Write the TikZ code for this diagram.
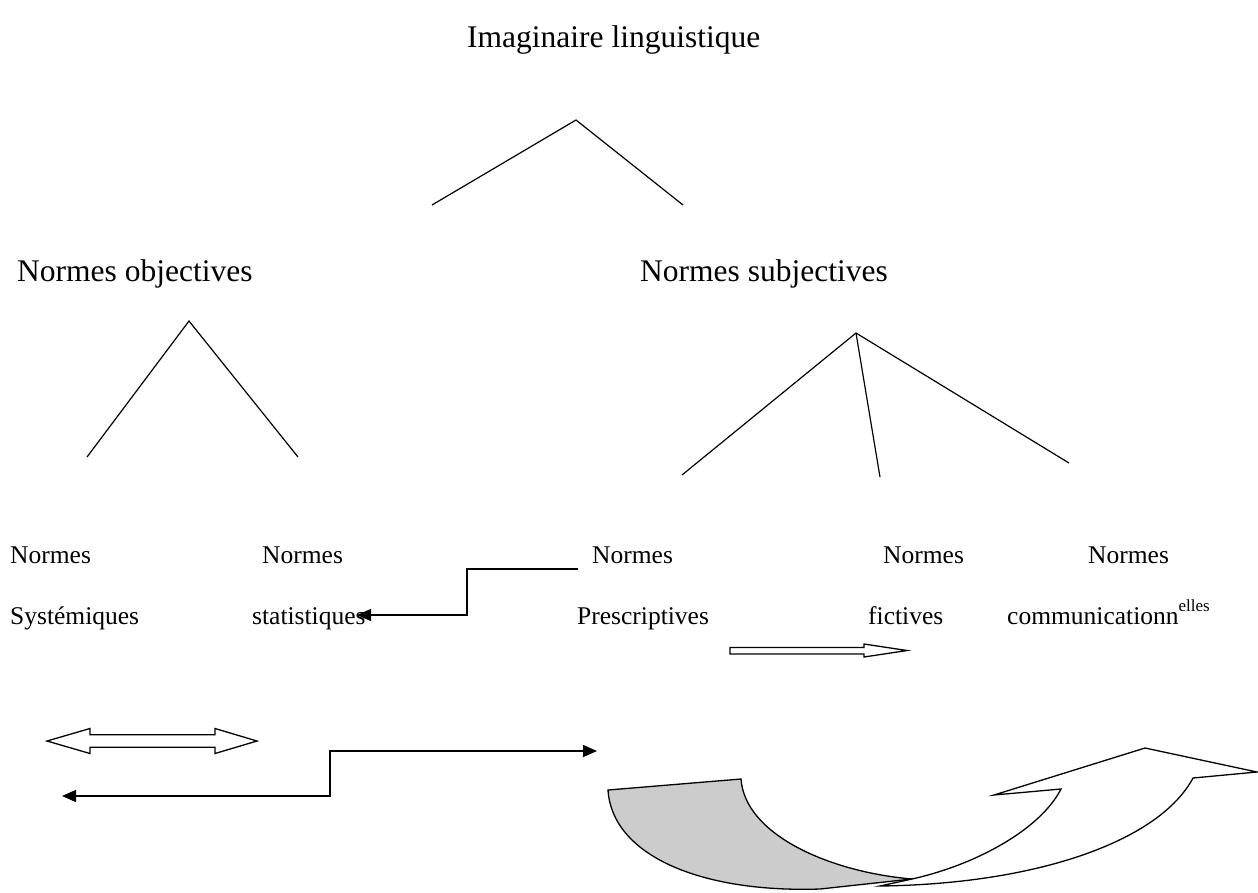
\documentclass[tikz,border=0pt]{standalone}
\usepackage{fontspec}
\setmainfont{Liberation Serif}
\usetikzlibrary{arrows.meta}
\begin{document}
\begin{tikzpicture}[x=1pt,y=-1pt,
  big/.style={inner sep=0pt,anchor=base west,font=\fontsize{31.5}{36}\selectfont},
  small/.style={inner sep=0pt,anchor=base west,font=\fontsize{25.5}{30}\selectfont},
  tree/.style={line width=1.2pt},
  conn/.style={line width=1.3pt},
  hollow/.style={draw,line width=1.3pt,fill=white,line join=miter},
  tip/.style={-{Triangle[length=14pt,width=12pt]}},
  tips/.style={{Triangle[length=14pt,width=12pt]}-{Triangle[length=14pt,width=12pt]}}]
\useasboundingbox[fill=white] (0,0) rectangle (1258,892);
% texts
\node[big] (imag) at (467,47) {Imaginaire linguistique};
\node[big] (nobj) at (17,281) {Normes objectives};
\node[big] (nsub) at (640,281) {Normes subjectives};
\node[small] (n1) at (10,563) {Normes};
\node[small] (s1) at (10,624) {Systémiques};
\node[small] (n2) at (262,563) {Normes};
\node[small] (s2) at (252,624) {statistiques};
\node[small] (n3) at (592,563) {Normes};
\node[small] (s3) at (577,624) {Prescriptives};
\node[small] (n4) at (883,563) {Normes};
\node[small] (s4) at (868,624) {fictives};
\node[small] (n5) at (1088,563) {Normes};
\node[small] (s5) at (1007,624) {communicationn\raisebox{13pt}{\fontsize{17}{20}\selectfont elles}};
% tree lines
\coordinate (a0) at (576,120);
\coordinate (a1) at (432,205);
\coordinate (a2) at (683,205);
\draw[tree] (a1) -- (a0) -- (a2);
\coordinate (b0) at (189,321);
\coordinate (b1) at (87,457);
\coordinate (b2) at (298,457);
\draw[tree] (b1) -- (b0) -- (b2);
\coordinate (c0) at (856,333);
\coordinate (c1) at (682,475);
\coordinate (c2) at (880,477);
\coordinate (c3) at (1069,463);
\draw[tree] (c1) -- (c0) -- (c3);
\draw[tree] (c0) -- (c2);
% step arrow 1
\coordinate (e1s) at (578,569);
\coordinate (e1t) at (357,615);
\draw[conn,tip] (e1s) -- (467,569) |- (e1t);
% hollow right arrow
\draw[hollow] (730,647.5) -- (864,647.5) -- (864,644) -- (907,650.5) -- (864,657) -- (864,654) -- (730,654) -- cycle;
% hollow double arrow
\draw[hollow] (47,741) -- (90,728.5) -- (90,734.7) -- (215,734.7) -- (215,728.5) -- (257,741) -- (215,753.5) -- (215,747.3) -- (90,747.3) -- (90,753.5) -- cycle;
% step arrow 2
\coordinate (e2l) at (62,796);
\coordinate (e2r) at (597,751);
\draw[conn,tips] (e2l) -- (330,796) |- (e2r);
% curved arrow
\draw[line width=1.3pt,fill=black!20,line join=miter] (608,790) -- (741,779) .. controls (745,835) and (830,872) .. (912,879) -- (820,889) .. controls (700,893) and (612,855) .. cycle;
\draw[line width=1.3pt,fill=white,line join=miter] (912,879) .. controls (975,865) and (1040,830) .. (1061,789) -- (994,795) -- (1145,748) -- (1257,772) -- (1193,778) .. controls (1160,840) and (1040,884) .. (880,886) -- cycle;
\end{tikzpicture}
\end{document}
